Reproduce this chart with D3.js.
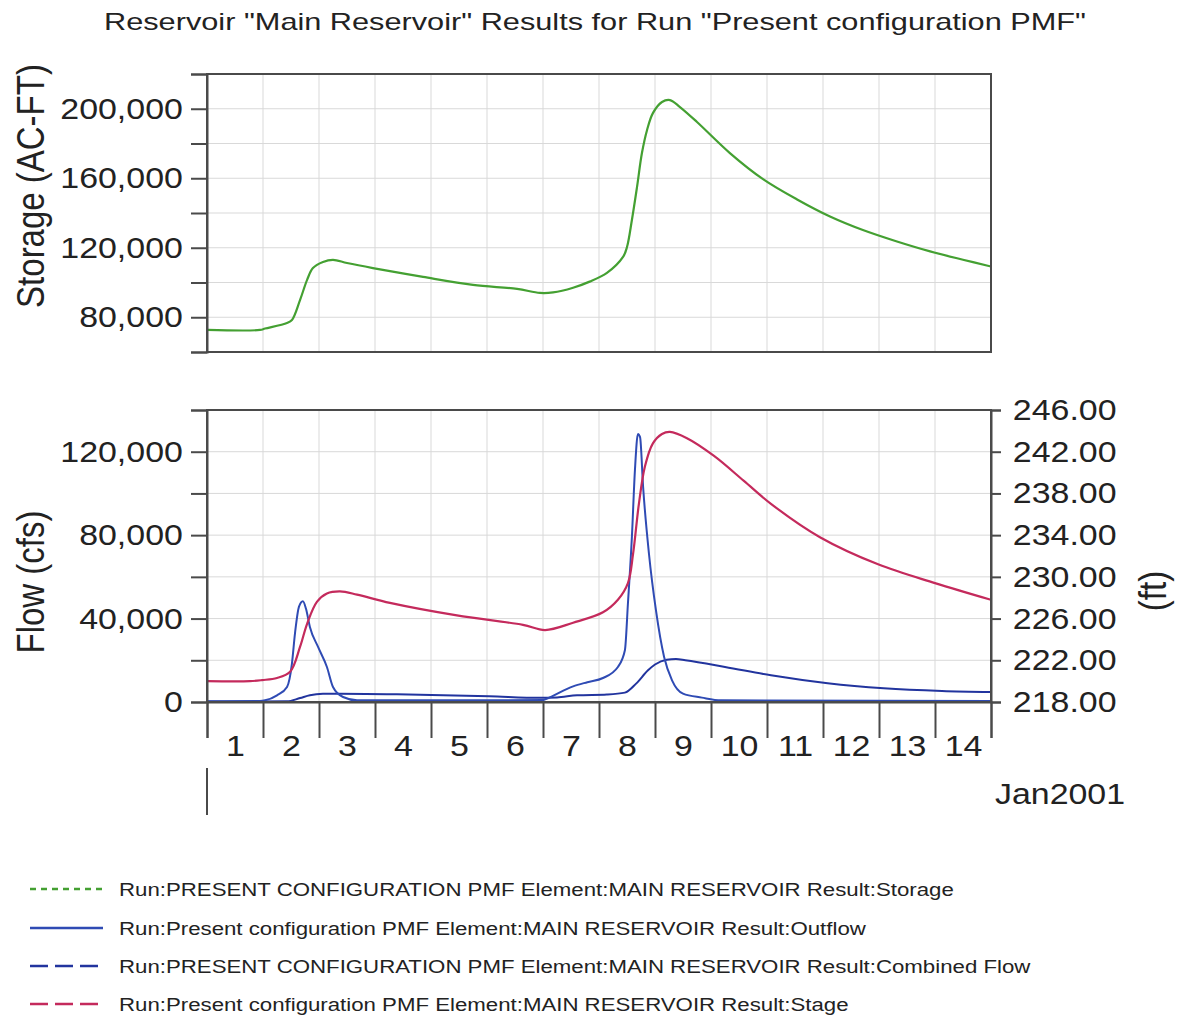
<!DOCTYPE html>
<html>
<head>
<meta charset="utf-8">
<script src="https://cdn.jsdelivr.net/npm/d3@7"></script>
<style>
  html, body { margin: 0; padding: 0; background: #fff; }
  svg { display: block; }
  text { font-family: "Liberation Sans", Arial, sans-serif; fill: #222; }
</style>
</head>
<body>
<div id="chart"></div>
<script>
// ---------------- DATA ----------------
const titleText = 'Reservoir "Main Reservoir" Results for Run "Present configuration PMF"';
const dayLabels = ["1","2","3","4","5","6","7","8","9","10","11","12","13","14"];
const monthLabel = "Jan2001";

// time in hours from Jan 1 2001 00:00
const storageHours = [0, 22.7, 24.9, 34.3, 36.4, 39.9, 42.9, 45.4, 49.7, 54, 60, 71.1, 92.6, 114, 132.9, 142.7, 148.3, 156.9, 164, 171.4, 178.3, 180, 182.1, 184.3, 186.4, 188.6, 191.1, 195, 198.4, 202.7, 210, 224.1, 238.3, 252.9, 267, 281.1, 295.7, 309.9, 324, 336];
const storageValues = [72700, 72700, 73500, 76700, 78400, 90000, 101500, 108300, 111800, 113000, 111200, 108300, 103200, 98600, 96300, 94000, 94300, 97000, 100500, 105500, 114700, 120400, 136000, 155000, 174500, 187800, 197500, 203900, 205000, 201000, 192400, 174500, 159500, 147800, 138000, 130200, 123600, 117900, 113100, 109200];

const combinedHours = [0, 22.7, 24.9, 30, 34.3, 36.4, 37.7, 39.4, 41.1, 42.4, 44.1, 47.6, 51.4, 54, 58.3, 64.3, 144, 145, 156.9, 163, 169.7, 176.1, 179.1, 180.4, 182.1, 183.4, 184.7, 185.6, 186.9, 189.4, 192.4, 195.9, 199.3, 204, 212.1, 220.3, 336];
const combinedValues = [300, 500, 800, 3200, 7200, 18400, 32800, 45600, 48300, 44800, 36000, 26400, 16800, 7200, 2400, 800, 900, 1300, 7500, 9500, 11500, 16800, 24800, 47200, 79200, 111200, 128500, 127000, 103200, 71200, 44000, 21600, 10400, 4000, 2100, 800, 500];

const outflowHours = [0, 34.3, 39.9, 44.1, 49.7, 57, 81.4, 121, 142.7, 150, 158.6, 171.4, 179.1, 183.9, 189, 192, 197, 201, 205, 222, 241.7, 266, 290, 315, 336];
const outflowValues = [200, 300, 1900, 3200, 3900, 4000, 3700, 2800, 2000, 2200, 3200, 3600, 4500, 8800, 15200, 18000, 20300, 20600, 20000, 16800, 12800, 9000, 6600, 5300, 4800];

const stageHours = [0, 18.4, 23.6, 30, 35.6, 39.9, 42.9, 47.1, 51.4, 57, 64.3, 78.4, 107.1, 135.4, 144.9, 156.9, 169.7, 176.1, 180.4, 182.6, 185.1, 187.7, 191.1, 195, 198.4, 205.7, 217.3, 230.1, 241.7, 262.7, 287.6, 312, 336];
const stageValues = [220.0, 220.0, 220.1, 220.3, 220.9, 223.3, 225.5, 227.6, 228.4, 228.6, 228.3, 227.5, 226.3, 225.4, 224.9, 225.6, 226.6, 227.8, 229.4, 232.2, 237.0, 240.6, 242.8, 243.7, 243.9, 243.3, 241.6, 239.2, 237.0, 233.8, 231.2, 229.4, 227.8];

const storageTicks = [60000, 80000, 100000, 120000, 140000, 160000, 180000, 200000, 220000];
const storageLabeled = [80000, 120000, 160000, 200000];
const flowTicks = [0, 20000, 40000, 60000, 80000, 100000, 120000, 140000];
const flowLabeled = [0, 40000, 80000, 120000];
const stageTicks = [218, 222, 226, 230, 234, 238, 242, 246];
const dayTickHours = d3.range(0, 337, 24);
const dayLabelHours = d3.range(12, 336, 24);

const legendLabels = [
  "Run:PRESENT CONFIGURATION PMF Element:MAIN RESERVOIR Result:Storage",
  "Run:Present configuration PMF Element:MAIN RESERVOIR Result:Outflow",
  "Run:PRESENT CONFIGURATION PMF Element:MAIN RESERVOIR Result:Combined Flow",
  "Run:Present configuration PMF Element:MAIN RESERVOIR Result:Stage"
];

// ---------------- STYLE / LAYOUT ----------------
const W = 1178, H = 1017;
const C = { green: "#44a032", blue: "#2f4bb4", navy: "#22349e", crimson: "#c42a5c", grid: "#d9d9d9", frame: "#4a4a4a" };
const legendStyles = [
  { color: C.green, dash: "6,5" },
  { color: C.blue, dash: null },
  { color: C.navy, dash: "18,7" },
  { color: C.crimson, dash: "18,7" }
];
const tickSX = 1.15, tickFont = 29.5;

const svg = d3.select("#chart").append("svg").attr("width", W).attr("height", H);
svg.append("rect").attr("width", W).attr("height", H).attr("fill", "#fff");

const x = d3.scaleLinear().domain([0, 336]).range([207, 991]);
const topP = { y0: 74, y1: 352 };
const botP = { y0: 410, y1: 702 };
const yS = d3.scaleLinear().domain([60000, 220000]).range([topP.y1, topP.y0]);
const yF = d3.scaleLinear().domain([0, 140000]).range([botP.y1, botP.y0]);
const yStage = d3.scaleLinear().domain([218, 246]).range([botP.y1, botP.y0]);

function stretchText(sel, sx) { sel.selectAll("text").attr("transform", `scale(${sx},1)`); }

// title
svg.append("text").attr("transform", `translate(595,29.5) scale(1.28,1)`)
  .attr("text-anchor", "middle").attr("font-size", 24).text(titleText);

// clip paths
svg.append("clipPath").attr("id", "clipTop").append("rect")
  .attr("x", x(0)).attr("y", topP.y0).attr("width", x(336) - x(0)).attr("height", topP.y1 - topP.y0);
svg.append("clipPath").attr("id", "clipBot").append("rect")
  .attr("x", x(0)).attr("y", botP.y0).attr("width", x(336) - x(0)).attr("height", botP.y1 - botP.y0);

// grids
function grid(g, yScale, yTicks, y0, y1) {
  g.selectAll("line.v").data(dayTickHours.slice(1, -1)).join("line").attr("class", "v")
    .attr("x1", d => x(d)).attr("x2", d => x(d)).attr("y1", y0).attr("y2", y1)
    .attr("stroke", C.grid).attr("stroke-width", 1);
  g.selectAll("line.h").data(yTicks).join("line").attr("class", "h")
    .attr("x1", x(0)).attr("x2", x(336)).attr("y1", d => yScale(d)).attr("y2", d => yScale(d))
    .attr("stroke", C.grid).attr("stroke-width", 1);
}
grid(svg.append("g"), yS, storageTicks.slice(1, -1), topP.y0, topP.y1);
grid(svg.append("g"), yF, flowTicks.slice(1, -1), botP.y0, botP.y1);

// lines
function series(hours, values) { return hours.map((h, i) => [h, values[i]]); }
const curve = d3.curveCatmullRom.alpha(0.5);
const lineS = d3.line().x(d => x(d[0])).y(d => yS(d[1])).curve(curve);
const lineF = d3.line().x(d => x(d[0])).y(d => yF(d[1])).curve(d3.curveMonotoneX);
const lineStage = d3.line().x(d => x(d[0])).y(d => yStage(d[1])).curve(curve);

svg.append("path").attr("clip-path", "url(#clipTop)").datum(series(storageHours, storageValues))
  .attr("d", lineS).attr("fill", "none").attr("stroke", C.green).attr("stroke-width", 2.2);

const gb = svg.append("g").attr("clip-path", "url(#clipBot)");
gb.append("path").datum(series(outflowHours, outflowValues))
  .attr("d", lineF).attr("fill", "none").attr("stroke", C.navy).attr("stroke-width", 2);
gb.append("path").datum(series(combinedHours, combinedValues))
  .attr("d", lineF).attr("fill", "none").attr("stroke", C.blue).attr("stroke-width", 2);
gb.append("path").datum(series(stageHours, stageValues))
  .attr("d", lineStage).attr("fill", "none").attr("stroke", C.crimson).attr("stroke-width", 2.2);

// frames
[topP, botP].forEach(p => {
  svg.append("rect").attr("x", x(0)).attr("y", p.y0).attr("width", x(336) - x(0)).attr("height", p.y1 - p.y0)
    .attr("fill", "none").attr("stroke", C.frame).attr("stroke-width", 2);
});

// axes
function styleAxis(g) {
  g.select(".domain").attr("stroke", C.frame).attr("stroke-width", 2);
  g.selectAll(".tick line").attr("stroke", C.frame).attr("stroke-width", 2);
  g.selectAll("text").attr("font-size", tickFont).attr("fill", "#222")
    .attr("font-family", '"Liberation Sans", Arial, sans-serif');
}
const fmt = d3.format(",");
const axTop = svg.append("g").attr("transform", `translate(${x(0)},0)`)
  .call(d3.axisLeft(yS).tickValues(storageTicks).tickSize(16).tickPadding(5)
    .tickFormat(d => storageLabeled.includes(d) ? fmt(d) : ""));
styleAxis(axTop); stretchText(axTop, tickSX);

const axFlow = svg.append("g").attr("transform", `translate(${x(0)},0)`)
  .call(d3.axisLeft(yF).tickValues(flowTicks).tickSize(16).tickPadding(5)
    .tickFormat(d => flowLabeled.includes(d) ? fmt(d) : ""));
styleAxis(axFlow); stretchText(axFlow, tickSX);

const axStage = svg.append("g").attr("transform", `translate(${x(336)},0)`)
  .call(d3.axisRight(yStage).tickValues(stageTicks).tickSize(10).tickPadding(9).tickFormat(d3.format(".2f")));
styleAxis(axStage); stretchText(axStage, tickSX);

const axX = svg.append("g").attr("transform", `translate(0,${botP.y1})`)
  .call(d3.axisBottom(x).tickValues(dayTickHours).tickSize(36).tickFormat(""));
styleAxis(axX);
const axXL = svg.append("g").attr("transform", `translate(0,${botP.y1})`)
  .call(d3.axisBottom(x).tickValues(dayLabelHours).tickSize(0).tickPadding(33)
    .tickFormat((d, i) => dayLabels[i]));
styleAxis(axXL); axXL.select(".domain").remove(); stretchText(axXL, tickSX);

// year separator tick and month label
svg.append("line").attr("x1", x(0)).attr("x2", x(0)).attr("y1", 768).attr("y2", 815)
  .attr("stroke", C.frame).attr("stroke-width", 2);
svg.append("text").attr("transform", `translate(995,804) scale(${tickSX},1)`)
  .attr("font-size", tickFont).text(monthLabel);

// axis titles
function vTitle(txt, xx, yy) {
  svg.append("text").attr("transform", `translate(${xx},${yy}) scale(1.15,1) rotate(-90)`)
    .attr("text-anchor", "middle").attr("font-size", 33).text(txt);
}
vTitle("Storage (AC-FT)", 44, 186);
vTitle("Flow (cfs)", 44, 582);
vTitle("(ft)", 1166, 591);

// legend
const lg = svg.append("g");
const rowY = [896, 935, 973, 1011];
legendLabels.forEach((lab, i) => {
  const st = legendStyles[i];
  lg.append("line").attr("x1", 30).attr("x2", 103).attr("y1", rowY[i] - 7).attr("y2", rowY[i] - 7)
    .attr("stroke", st.color).attr("stroke-width", 2.5).attr("stroke-dasharray", st.dash);
  lg.append("text").attr("transform", `translate(119,${rowY[i]}) scale(1.27,1)`)
    .attr("font-size", 17.5).text(lab);
});
</script>
</body>
</html>
